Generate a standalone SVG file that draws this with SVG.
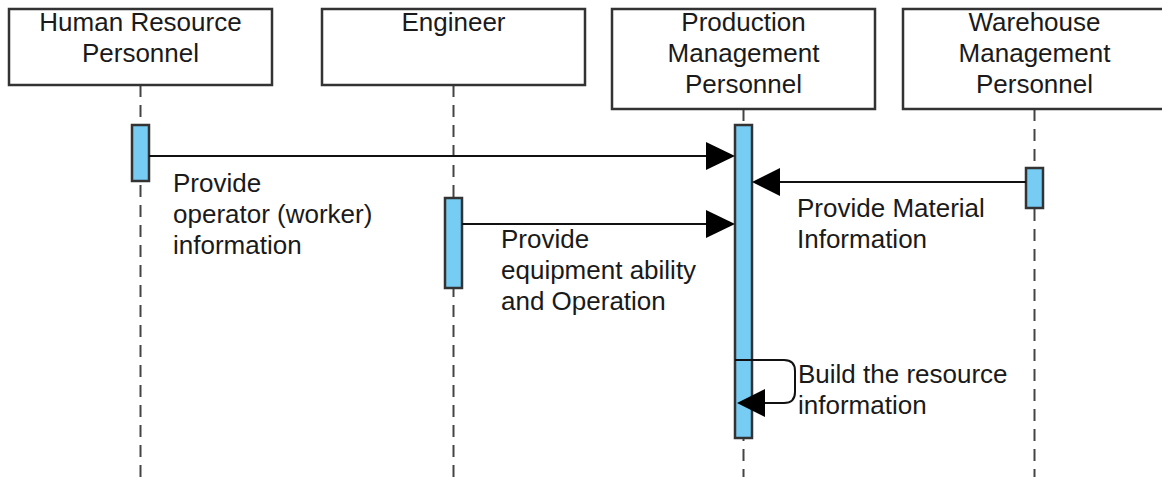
<svg xmlns="http://www.w3.org/2000/svg" width="1162" height="477" viewBox="0 0 1162 477">
<style>
.box{fill:#fff;stroke:#333;stroke-width:2.5}
.life{stroke:#444;stroke-width:2;stroke-dasharray:12 8;fill:none}
.act{fill:#77CCF3;stroke:#333;stroke-width:2.5}
.msg{stroke:#111;stroke-width:2;fill:none}
.head{fill:#000}
text{font-family:"Liberation Sans",Arial,sans-serif;font-size:26px;fill:#1a1a1a}
.c{text-anchor:middle}
</style>
<rect width="1162" height="477" fill="#fff"/>
<g id="lifelines">
<line class="life" x1="140.5" y1="85" x2="140.5" y2="477"/>
<line class="life" x1="453.5" y1="85" x2="453.5" y2="477"/>
<line class="life" x1="743.5" y1="109" x2="743.5" y2="477"/>
<line class="life" x1="1034.5" y1="109" x2="1034.5" y2="477"/>
</g>
<g id="hr">
<rect class="box" x="9" y="9" width="263" height="76"/>
<text class="c" x="140.5" y="31">Human Resource</text>
<text class="c" x="140.5" y="62">Personnel</text>
<rect class="act" x="132" y="125" width="17" height="56"/>
</g>
<g id="engineer">
<rect class="box" x="322" y="9" width="263" height="76"/>
<text class="c" x="453.5" y="31">Engineer</text>
<rect class="act" x="445" y="198" width="17" height="90"/>
</g>
<g id="production">
<rect class="box" x="612" y="9" width="263" height="100"/>
<text class="c" x="743.5" y="31">Production</text>
<text class="c" x="743.5" y="62">Management</text>
<text class="c" x="743.5" y="93">Personnel</text>
<rect class="act" x="735" y="125" width="17" height="313"/>
</g>
<g id="warehouse">
<rect class="box" x="903" y="9" width="263" height="100"/>
<text class="c" x="1034.5" y="31">Warehouse</text>
<text class="c" x="1034.5" y="62">Management</text>
<text class="c" x="1034.5" y="93">Personnel</text>
<rect class="act" x="1026" y="168" width="17" height="40"/>
</g>
<g id="connectors">
<line class="msg" x1="149" y1="156" x2="710" y2="156"/>
<polygon class="head" points="706,142 735,156 706,170"/>
<line class="msg" x1="462" y1="224" x2="710" y2="224"/>
<polygon class="head" points="706,210 735,224 706,238"/>
<line class="msg" x1="1026" y1="182" x2="776" y2="182"/>
<polygon class="head" points="780,168 752,182 780,196"/>
<path class="msg" d="M735,360 H784 Q795,360 795,371 V392 Q795,403 784,403 H760"/>
<polygon class="head" points="765,389 737,403 765,417"/>
</g>
<g id="labels">
<text x="173" y="192">Provide</text>
<text x="173" y="223">operator (worker)</text>
<text x="173" y="254">information</text>
<text x="501" y="248">Provide</text>
<text x="501" y="279">equipment ability</text>
<text x="501" y="310">and Operation</text>
<text x="797" y="217">Provide Material</text>
<text x="797" y="248">Information</text>
<text x="798" y="383">Build the resource</text>
<text x="798" y="414">information</text>
</g>
</svg>
